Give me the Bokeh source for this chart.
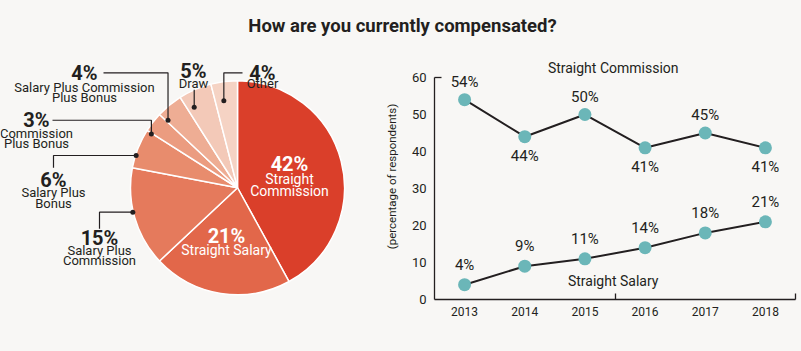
import numpy as np
from bokeh.plotting import figure
from bokeh.layouts import column, row
from bokeh.models import Range1d, FixedTicker
from bokeh.core.properties import value
from bokeh.embed import file_html
from bokeh.resources import INLINE

# ---------------- data ----------------
title_text = "How are you currently compensated?"

pie_labels = ["Straight\nCommission", "Straight Salary", "Salary Plus\nCommission",
              "Salary Plus\nBonus", "Commission\nPlus Bonus",
              "Salary Plus Commission\nPlus Bonus", "Draw", "Other"]
pie_values = [42, 21, 15, 6, 3, 4, 5, 4]
pie_colors = ["#da3f2a", "#e2674a", "#e57a5c", "#e88c6d", "#eb9c80",
              "#eead94", "#f3c9b8", "#f5d3c4"]

years = [2013, 2014, 2015, 2016, 2017, 2018]
straight_commission = [54, 44, 50, 41, 45, 41]
straight_salary = [4, 9, 11, 14, 18, 21]
y_ticks = [0, 10, 20, 30, 40, 50, 60]
y_axis_label = "(percentage of respondents)"
series_names = ["Straight Commission", "Straight Salary"]

# ---------------- style ----------------
BG = "#f8f7f5"
INK = "#231f20"
FONT = "Roboto"
TEAL = "#6bb6b8"


def blank(fig):
    fig.axis.visible = False
    fig.grid.visible = False
    fig.outline_line_color = None
    fig.background_fill_color = BG
    fig.border_fill_color = BG


# ---------------- title ----------------
tf = figure(width=801, height=45, x_range=Range1d(0, 801), y_range=Range1d(0, 45),
            min_border=0, toolbar_location=None, output_backend="svg",
            styles={"background-color": BG})
blank(tf)
tf.text(x=[402], y=[20], text=[title_text], text_font=value(FONT), text_font_style="bold",
        text_font_size="18.5px", text_color=INK, text_align="center", text_baseline="middle")

# ---------------- pie ----------------
PW, PH = 380, 306
pf = figure(width=PW, height=PH, x_range=Range1d(0, PW), y_range=Range1d(0, PH),
            min_border=0, toolbar_location=None, output_backend="svg",
            styles={"background-color": BG})
blank(pf)


def Y(wy):  # window y -> pie figure y
    return 351 - wy


cx, cy, R = 237, Y(212), 107
vals = np.array(pie_values, dtype=float)
cum = np.concatenate([[0], np.cumsum(vals)]) / vals.sum()
a_start = np.radians(90 - cum[:-1] * 360)
a_end = np.radians(90 - cum[1:] * 360)
pf.wedge(x=cx, y=cy, radius=R, start_angle=a_end, end_angle=a_start,
         fill_color=pie_colors, line_color="white", line_width=1.5)

mid = (a_start + a_end) / 2
dot_x = cx + 109 * np.cos(mid)
dot_y = cy + 109 * np.sin(mid)

# inside labels
inside = {0: (289, 183, [201, 216]), 1: (226, 272, [289])}
for i, (lx, py, ly) in inside.items():
    pf.text(x=[lx], y=[Y(py)], text=[f"{pie_values[i]}%"], text_font=value(FONT),
            text_font_style="bold", text_font_size="20px", text_color="white",
            text_align="center", text_baseline="middle")
    for line, yy in zip(pie_labels[i].split("\n"), ly):
        pf.text(x=[lx], y=[Y(yy)], text=[line], text_font=value(FONT), text_font_size="14px",
                text_color="white", text_align="center", text_baseline="middle")

# outside labels: leader end (window coords), routing, label centre, line ys
outside = {
    2: ((99, 263), "hv", (99, 275), [290, 303]),
    3: ((53, 187), "hv", (53, 202), [218, 231]),
    4: ((52, 128), "vh", (36, 128), [144, 157]),
    5: ((103, 69), "vh", (84, 69), [87, 100]),
    6: ((193, 90), "v", (193, 67), [82]),
    7: ((242, 69), "vh", (262, 69), [82]),
}
xs, ys = [], []
for i, (end, mode, pc, ly) in outside.items():
    ex, ey = end[0], Y(end[1])
    dx, dy = dot_x[i], dot_y[i]
    if mode == "hv":
        xs.append([dx, ex, ex]); ys.append([dy, dy, ey])
    elif mode == "vh":
        xs.append([dx, dx, ex]); ys.append([dy, ey, ey])
    else:
        xs.append([dx, dx]); ys.append([dy, ey])
    pf.text(x=[pc[0]], y=[Y(pc[1])], text=[f"{pie_values[i]}%"], text_font=value(FONT),
            text_font_style="bold", text_font_size="20px", text_color=INK,
            text_align="center", text_baseline="middle")
    for line, yy in zip(pie_labels[i].split("\n"), ly):
        pf.text(x=[pc[0]], y=[Y(yy)], text=[line], text_font=value(FONT), text_font_size="13px",
                text_color=INK, text_align="center", text_baseline="middle")
pf.multi_line(xs=xs, ys=ys, line_color=INK, line_width=1.2)
sel = list(outside.keys())
pf.scatter(x=dot_x[sel], y=dot_y[sel], size=5, fill_color=INK, line_color=None)

# ---------------- line chart ----------------
lf = figure(width=421, height=306, x_range=Range1d(2012.5, 2018.5), y_range=Range1d(0, 66.49),
            min_border_left=54, min_border_right=6, min_border_top=8, min_border_bottom=52,
            toolbar_location=None, output_backend="svg", styles={"background-color": BG})
lf.grid.visible = False
lf.outline_line_color = None
lf.background_fill_color = BG
lf.border_fill_color = BG

for ax in (lf.xaxis, lf.yaxis):
    ax.axis_line_color = INK
    ax.axis_line_width = 1.3
    ax.major_tick_in = 0
    ax.major_tick_out = 0
    ax.minor_tick_out = 0
    ax.minor_tick_line_color = INK
    ax.minor_tick_line_width = 1.3
    ax.major_label_text_font = FONT
    ax.major_label_text_color = INK

lf.xaxis.ticker = FixedTicker(ticks=years, minor_ticks=[2015.5, 2018.5])
lf.xaxis.minor_tick_in = 6
lf.xaxis.major_label_text_font_size = "12px"
lf.xaxis.major_label_standoff = 7
lf.xaxis.major_label_overrides = {y: str(y) for y in years}

lf.yaxis.ticker = FixedTicker(ticks=y_ticks, minor_ticks=[60])
lf.yaxis.bounds = (0, 60)
lf.yaxis.minor_tick_in = 7
lf.yaxis.major_label_text_font_size = "13px"
lf.yaxis.major_label_standoff = 8
lf.yaxis.axis_label = y_axis_label
lf.yaxis.axis_label_text_font = FONT
lf.yaxis.axis_label_text_font_style = "normal"
lf.yaxis.axis_label_text_font_size = "11.5px"
lf.yaxis.axis_label_text_color = INK
lf.yaxis.axis_label_standoff = 10

for series in (straight_commission, straight_salary):
    lf.line(years, series, line_color=INK, line_width=2)
    lf.scatter(years, series, size=13, fill_color=TEAL, line_color=None)

above_c = [i for i in range(len(years)) if i % 2 == 0]
below_c = [i for i in range(len(years)) if i % 2 == 1]
lab_kw = dict(text_font=value(FONT), text_font_size="15px", text_color=INK,
              text_align="center", text_baseline="middle")
lf.text(x=[years[i] for i in above_c], y=[straight_commission[i] for i in above_c],
        text=[f"{straight_commission[i]}%" for i in above_c], y_offset=-18, **lab_kw)
lf.text(x=[years[i] for i in below_c], y=[straight_commission[i] for i in below_c],
        text=[f"{straight_commission[i]}%" for i in below_c], y_offset=19, **lab_kw)
lf.text(x=years, y=straight_salary, text=[f"{v}%" for v in straight_salary], y_offset=-20, **lab_kw)

lf.text(x=[2015.47], y=[62.65], text=[series_names[0]], text_font=value(FONT),
        text_font_size="14px", text_color=INK, text_align="center", text_baseline="middle")
lf.text(x=[2015.47], y=[5.13], text=[series_names[1]], text_font=value(FONT),
        text_font_size="14px", text_color=INK, text_align="center", text_baseline="middle")

layout = column(tf, row(pf, lf, spacing=0, styles={"background-color": BG}),
                spacing=0, styles={"background-color": BG})
open("out.html", "w").write(file_html(layout, INLINE))
